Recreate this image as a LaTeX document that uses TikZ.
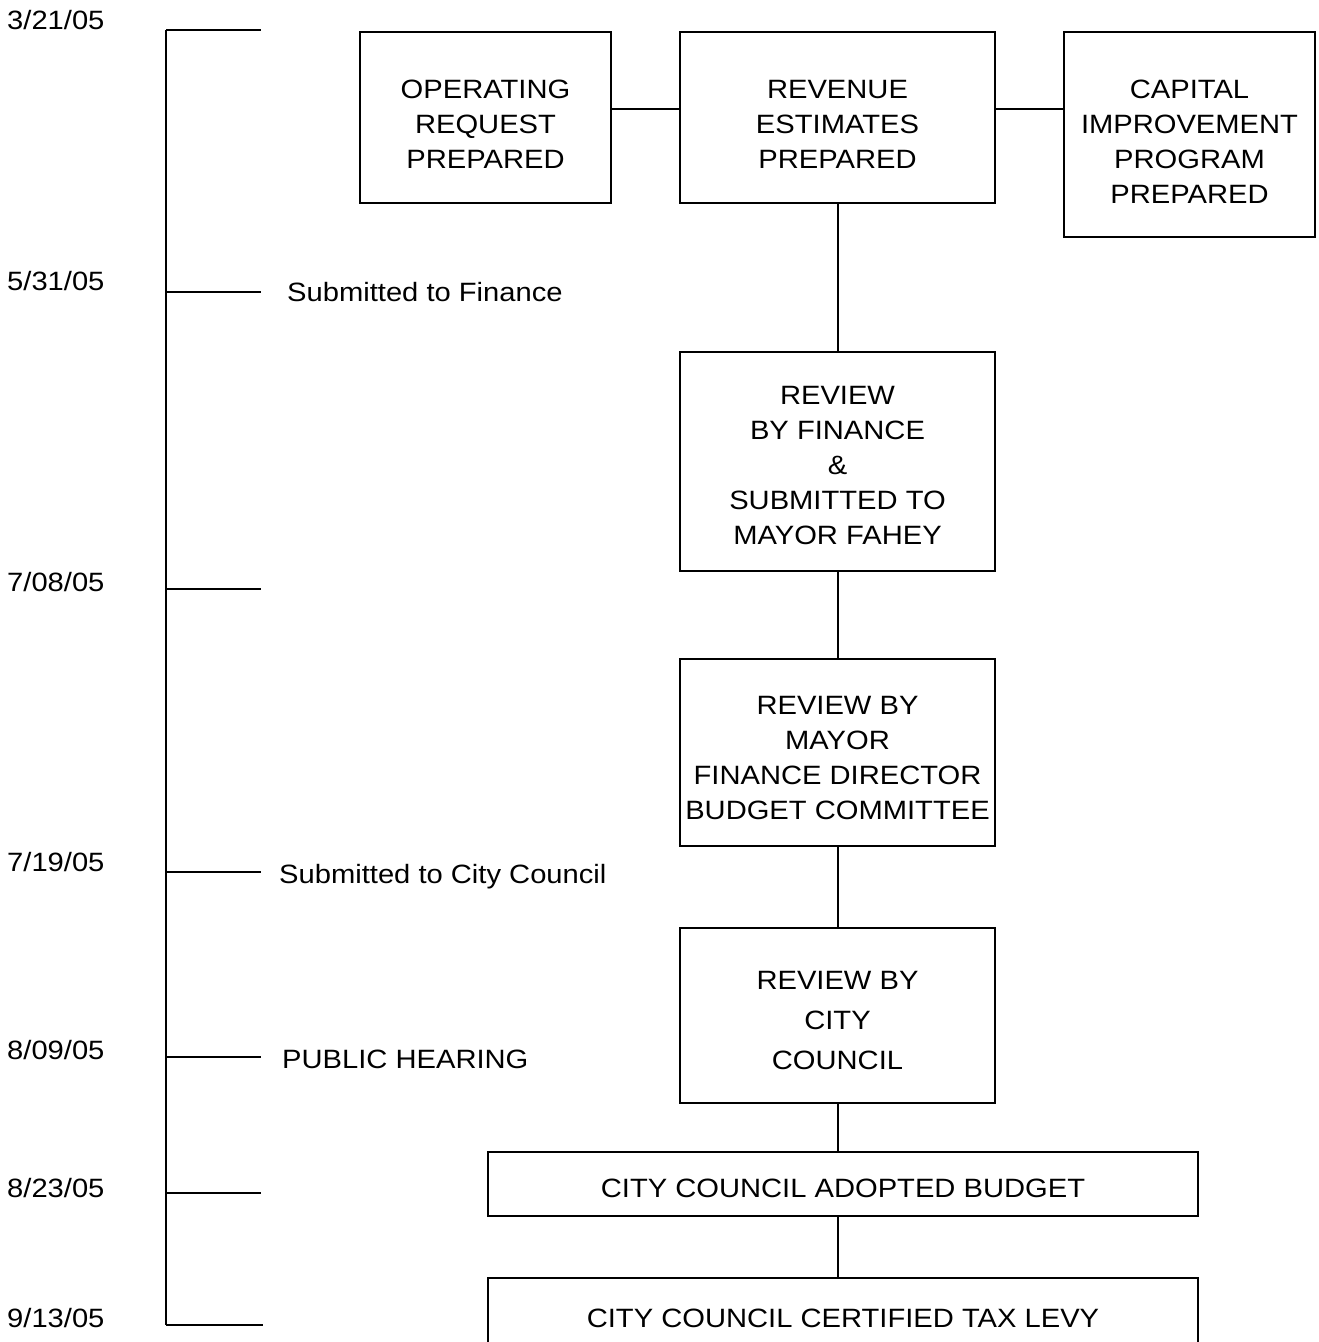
\documentclass[tikz,border=0pt]{standalone}
\usepackage{fontspec}
\setmainfont[FakeStretch=1.1]{Liberation Sans}
\begin{document}
\begin{tikzpicture}[x=1pt,y=-1pt,
  every node/.style={font=\fontsize{26.5}{35}\selectfont, inner sep=0pt},
  box/.style={draw, line width=2.4pt, rectangle},
  boxtext/.style={align=center},
  conn/.style={line width=2pt},
  tick/.style={line width=2pt},
  datelbl/.style={anchor=base west},
  evlbl/.style={anchor=base west}]
\clip (0,0) rectangle (1318,1342);
\fill[white] (0,0) rectangle (1318,1342);

% boxes
\node[box, minimum width=251pt, minimum height=171pt] (op) at (485.5,117.5) {};
\node[box, minimum width=315pt, minimum height=171pt] (rev) at (837.5,117.5) {};
\node[box, minimum width=251pt, minimum height=205pt] (cap) at (1189.5,134.5) {};
\node[box, minimum width=315pt, minimum height=219pt] (rf) at (837.5,461.5) {};
\node[box, minimum width=315pt, minimum height=187pt] (rm) at (837.5,752.5) {};
\node[box, minimum width=315pt, minimum height=175pt] (rc) at (837.5,1015.5) {};
\node[box, minimum width=710pt, minimum height=64pt] (ad) at (843,1184) {};
\node[box, minimum width=710pt, minimum height=80pt] (ct) at (843,1318) {};

% box texts
\node[boxtext] (opt) at ([yshift=-7pt]op.center) {OPERATING\\REQUEST\\PREPARED};
\node[boxtext] (revt) at ([yshift=-7pt]rev.center) {REVENUE\\ESTIMATES\\PREPARED};
\node[boxtext] (capt) at ([yshift=-7pt]cap.center) {CAPITAL\\IMPROVEMENT\\PROGRAM\\PREPARED};
\node[boxtext] (rft) at ([yshift=-4.5pt]rf.center) {REVIEW\\BY FINANCE\\\&\\SUBMITTED TO\\MAYOR FAHEY};
\node[boxtext] (rmt) at ([yshift=-6pt]rm.center) {REVIEW BY\\MAYOR\\FINANCE DIRECTOR\\BUDGET COMMITTEE};
\node[boxtext, font=\fontsize{26.5}{40}\selectfont] (rct) at ([yshift=-5pt]rc.center) {REVIEW BY\\CITY\\COUNCIL};
\node[boxtext] (adt) at ([yshift=-4pt]ad.center) {CITY COUNCIL ADOPTED BUDGET};
\node[boxtext] (ctt) at (ct.center) {CITY COUNCIL CERTIFIED TAX LEVY};

% connectors
\draw[conn] ([yshift=8.5pt]op.east) -- ([yshift=8.5pt]rev.west);
\draw[conn] ([yshift=8.5pt]rev.east) -- ([yshift=25.5pt]cap.west);
\draw[conn] (rev.south) -- (rf.north);
\draw[conn] (rf.south) -- (rm.north);
\draw[conn] (rm.south) -- (rc.north);
\draw[conn] (rc.south) -- (rc.south |- ad.north);
\draw[conn] (rc.south |- ad.south) -- (rc.south |- ct.north);

% timeline
\coordinate (tl0) at (166,30);
\coordinate (tl1) at (166,292);
\coordinate (tl2) at (166,589);
\coordinate (tl3) at (166,872);
\coordinate (tl4) at (166,1057);
\coordinate (tl5) at (166,1193);
\coordinate (tl6) at (166,1325);
\coordinate (te0) at (261,30);
\coordinate (te1) at (261,292);
\coordinate (te2) at (261,589);
\coordinate (te3) at (261,872);
\coordinate (te4) at (261,1057);
\coordinate (te5) at (261,1193);
\coordinate (te6) at (263,1325);
\draw[tick] (tl0) -- (tl6);
\foreach \i in {0,...,6} { \draw[tick] (tl\i) -- (te\i); }

% dates
\node[datelbl] (d0) at (7,29.5) {3/21/05};
\node[datelbl] (d1) at (7,290.5) {5/31/05};
\node[datelbl] (d2) at (7,591.5) {7/08/05};
\node[datelbl] (d3) at (7,871.5) {7/19/05};
\node[datelbl] (d4) at (7,1059.5) {8/09/05};
\node[datelbl] (d5) at (7,1197.5) {8/23/05};
\node[datelbl] (d6) at (7,1327.5) {9/13/05};

% event labels
\node[evlbl] (e1) at (287,301.5) {Submitted to Finance};
\node[evlbl] (e3) at (279,883.5) {Submitted to City Council};
\node[evlbl] (e4) at (282,1068.5) {PUBLIC HEARING};
\end{tikzpicture}
\end{document}
